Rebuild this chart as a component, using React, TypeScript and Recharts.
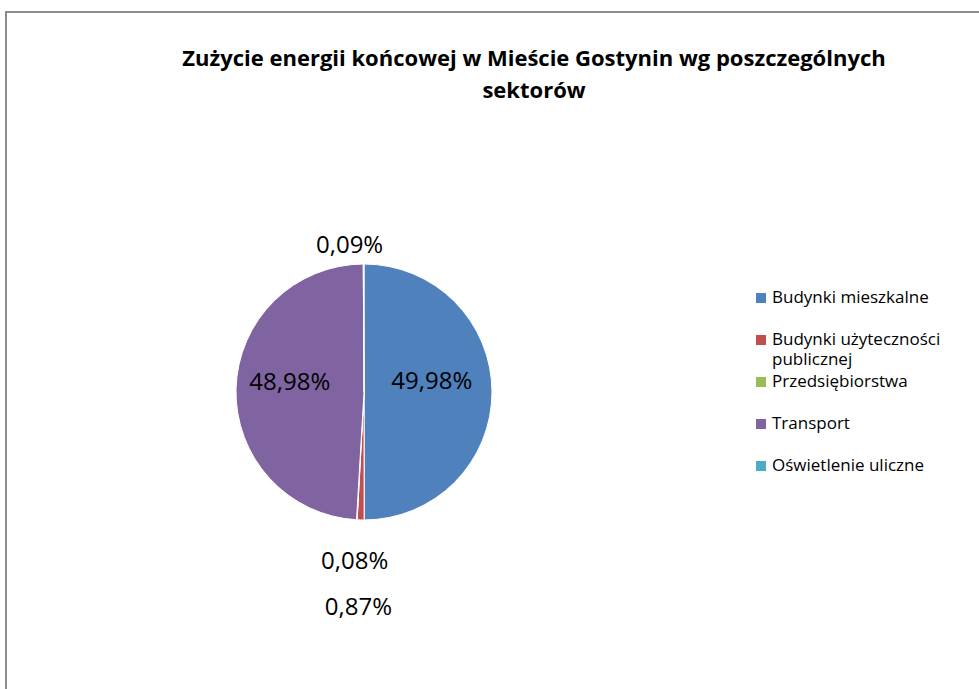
import { PieChart, Pie, Cell, Legend } from "recharts";

const sectors = [
  "Budynki mieszkalne",
  "Budynki użyteczności publicznej",
  "Przedsiębiorstwa",
  "Transport",
  "Oświetlenie uliczne",
];
const shares = [49.98, 0.87, 0.08, 48.98, 0.09];
const colors = ["#4F81BD", "#C0504D", "#9BBB59", "#8064A2", "#4BACC6"];

const data = sectors.map((name, i) => ({ name, value: shares[i] }));

const RADIAN = Math.PI / 180;
// label placement: distance from centre (x radius) and small nudges, like Excel's best fit
const labelDist = [0.53, 1.67, 1.31, 0.58, 1.16];
const labelNudgeX = [0, 0, 0, 0, -14];
const labelNudgeY = [-12, 0, 0, -10, 0];

const fmt = (v: number) => v.toFixed(2).replace(".", ",") + "%";

const renderLabel = (props: any) => {
  const { cx, cy, midAngle, outerRadius, index, value } = props;
  const r = outerRadius * labelDist[index];
  const x = cx + r * Math.cos(-midAngle * RADIAN) + labelNudgeX[index];
  const y = cy + r * Math.sin(-midAngle * RADIAN) + labelNudgeY[index];
  return (
    <text
      x={x}
      y={y}
      textAnchor="middle"
      dominantBaseline="central"
      fill="#000"
      fontSize={24}
      fontFamily="'Open Sans', sans-serif"
    >
      {fmt(value)}
    </text>
  );
};

const LegendContent = () => (
  <div style={{ fontFamily: "'Open Sans', sans-serif", fontSize: 17, color: "#000" }}>
    {sectors.map((s, i) => (
      <div
        key={s}
        style={{ height: 42, display: "flex", alignItems: "flex-start", width: 220 }}
      >
        <span
          style={{
            display: "inline-block",
            width: 10,
            height: 10,
            background: colors[i],
            marginTop: 6,
            marginRight: 6,
            flexShrink: 0,
          }}
        />
        <span style={{ lineHeight: "20px" }}>{s}</span>
      </div>
    ))}
  </div>
);

export default function App() {
  return (
    <div
      style={{
        position: "fixed",
        left: 0,
        top: 0,
        width: 979,
        height: 689,
        overflow: "hidden",
        background: "#fff",
      }}
    >
      <div
        style={{
          position: "absolute",
          left: 5,
          top: 11,
          width: 1100,
          height: 800,
          border: "2px solid #8c8c8c",
        }}
      />
      <div
        style={{
          position: "absolute",
          left: 0,
          top: 41,
          width: 1068,
          textAlign: "center",
          fontFamily: "'Open Sans', sans-serif",
          fontWeight: "bold",
          fontSize: 22,
          lineHeight: "32px",
          color: "#000",
        }}
      >
        Zużycie energii końcowej w Mieście Gostynin wg poszczególnych
        <br />
        sektorów
      </div>
      <div style={{ position: "absolute", left: 0, top: 0 }}>
        <PieChart width={979} height={689} margin={{ top: 0, right: 0, bottom: 0, left: 0 }}>
          <Pie
            data={data}
            dataKey="value"
            nameKey="name"
            cx={364}
            cy={392}
            outerRadius={128}
            startAngle={90}
            endAngle={-270}
            stroke="#fff"
            strokeWidth={1}
            label={renderLabel}
            labelLine={false}
            isAnimationActive={false}
          >
            {data.map((d, i) => (
              <Cell key={d.name} fill={colors[i]} />
            ))}
          </Pie>
          <Legend
            layout="vertical"
            align="right"
            verticalAlign="top"
            content={<LegendContent />}
            wrapperStyle={{ left: 756, top: 287, width: 225 }}
          />
        </PieChart>
      </div>
    </div>
  );
}
